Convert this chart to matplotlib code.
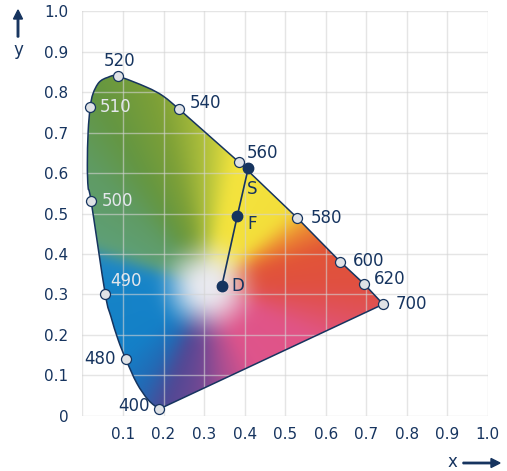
import numpy as np
import matplotlib
matplotlib.use("Agg")
import matplotlib.pyplot as plt
from matplotlib.patches import PathPatch, FancyArrow
from matplotlib.path import Path

NAVY = "#16345f"
LIGHT = "#e4e7ec"
plt.rcParams["font.family"] = ["DejaVu Sans"]

# Spectral locus in chromaticity coordinates: curved part from 400 nm to 540 nm
curve_x = [0.189, 0.162, 0.134, 0.107, 0.088, 0.070, 0.056, 0.021, 0.014, 0.012,
           0.014, 0.019, 0.026, 0.041, 0.062, 0.087, 0.158, 0.199, 0.238]
curve_y = [0.017, 0.040, 0.081, 0.140, 0.188, 0.246, 0.302, 0.532, 0.564, 0.621,
           0.703, 0.762, 0.796, 0.824, 0.836, 0.839, 0.812, 0.790, 0.758]
# nearly straight part from 560 nm to 700 nm
edge_x = [0.387, 0.529, 0.636, 0.695, 0.742]
edge_y = [0.626, 0.490, 0.381, 0.326, 0.276]

# Marked wavelengths (nm) on the locus
wavelengths = [400, 480, 490, 500, 510, 520, 540, 560, 580, 600, 620, 700]
wl_x = [0.189, 0.107, 0.056, 0.021, 0.019, 0.087, 0.238, 0.387, 0.529, 0.636, 0.695, 0.742]
wl_y = [0.017, 0.140, 0.302, 0.532, 0.762, 0.839, 0.758, 0.626, 0.490, 0.381, 0.326, 0.276]

# Colour points S, F, D joined by a line
pt_names = ["S", "F", "D"]
pt_x = [0.409, 0.382, 0.344]
pt_y = [0.612, 0.494, 0.322]

x_ticks = [0.0, 0.1, 0.2, 0.3, 0.4, 0.5, 0.6, 0.7, 0.8, 0.9, 1.0]
x_tick_labels = ["", "0.1", "0.2", "0.3", "0.4", "0.5", "0.6", "0.7", "0.8", "0.9", "1.0"]
y_ticks = [0.0, 0.1, 0.2, 0.3, 0.4, 0.5, 0.6, 0.7, 0.8, 0.9, 1.0]
y_tick_labels = ["0", "0.1", "0.2", "0.3", "0.4", "0.5", "0.6", "0.7", "0.8", "0.9", "1.0"]

# label placement (offset in points, horizontal alignment, colour)
wl_label_style = {
    400: ((-7, 2), "right", NAVY),
    480: ((-7, 0), "right", NAVY),
    490: ((3.5, 9), "left", LIGHT),
    500: ((8, 0), "left", LIGHT),
    510: ((7, 0), "left", LIGHT),
    520: ((1.5, 11), "center", NAVY),
    540: ((8, 4), "left", NAVY),
    560: ((5.3, 7), "left", NAVY),
    580: ((10, 0), "left", NAVY),
    600: ((9.3, 0.5), "left", NAVY),
    620: ((7.3, 3.3), "left", NAVY),
    700: ((9, 0), "left", NAVY),
}
pt_label_style = {"S": (-1.3, -15), "F": (7.5, -5.5), "D": (6.5, 0)}


def locus_path():
    """Smooth (Catmull-Rom as cubic Bezier) curve, then straight edges, closed."""
    p = np.column_stack([curve_x, curve_y])
    verts = [p[0]]
    codes = [Path.MOVETO]
    n = len(p)
    for i in range(n - 1):
        p0 = p[max(i - 1, 0)]
        p1, p2 = p[i], p[i + 1]
        p3 = p[min(i + 2, n - 1)]
        verts += [p1 + (p2 - p0) / 6, p2 - (p3 - p1) / 6, p2]
        codes += [Path.CURVE4] * 3
    for x, y in zip(edge_x, edge_y):
        verts.append((x, y))
        codes.append(Path.LINETO)
    verts.append(p[0])
    codes.append(Path.CLOSEPOLY)
    return Path(np.array(verts, dtype=float), codes)


# Hue by direction around the white point, blending to white at the centre
white_pt = (0.31, 0.32)
hue_angles = [-180, -140, -122, -110, -95, -80, -62, -25, -10, 0, 18, 30, 42, 78,
              90, 105, 120, 135, 160, 166, 180]
hue_rgb = [(22, 132, 200), (20, 128, 200), (35, 105, 180), (80, 72, 148),
           (110, 72, 148), (170, 78, 145), (222, 84, 140), (225, 85, 135),
           (225, 82, 90), (224, 80, 65), (226, 85, 55), (236, 135, 50),
           (244, 222, 58), (244, 228, 62), (180, 195, 60), (125, 160, 55),
           (100, 150, 65), (95, 155, 100), (95, 160, 120), (30, 135, 200),
           (22, 132, 200)]
center_rgb = (234, 234, 240)

gx = np.linspace(-0.05, 0.85, 540)
gy = np.linspace(-0.05, 0.95, 600)
GX, GY = np.meshgrid(gx, gy)
ang = np.degrees(np.arctan2(GY - white_pt[1], GX - white_pt[0]))
rad = np.hypot(GX - white_pt[0], GY - white_pt[1])
hue = np.array(hue_rgb, dtype=float) / 255.0
img = np.stack([np.interp(ang, hue_angles, hue[:, c]) for c in range(3)], axis=-1)
t = np.clip((rad - 0.02) / 0.12, 0, 1)
t = t * t * (3 - 2 * t)
cen = np.array(center_rgb) / 255.0
img = img * t[..., None] + cen * (1 - t[..., None])

# soften the colour boundaries with a separable gaussian
sig = 9.0
k = np.arange(-int(3 * sig), int(3 * sig) + 1)
kern = np.exp(-0.5 * (k / sig) ** 2)
kern /= kern.sum()
pad = len(k) // 2
for axis in (0, 1):
    padw = [(0, 0)] * 3
    padw[axis] = (pad, pad)
    ip = np.pad(img, padw, mode="edge")
    img = np.apply_along_axis(lambda v: np.convolve(v, kern, mode="valid"), axis, ip)
img = np.clip(img, 0, 1)

fig = plt.figure(figsize=(5.07, 4.71), dpi=100)
ax = fig.add_axes([0.1627, 0.1168, 0.7993, 0.8598])
ax.set_xlim(0, 1)
ax.set_ylim(0, 1)

path = locus_path()
outline = PathPatch(path, facecolor="none", edgecolor=NAVY, linewidth=1.1, zorder=3)
im = ax.imshow(img, origin="lower", extent=(-0.05, 0.85, -0.05, 0.95), aspect="auto",
               interpolation="bilinear", zorder=1)
ax.add_patch(outline)
im.set_clip_path(outline)

ax.set_axisbelow(False)
ax.grid(True, color="#d4d4d4", alpha=0.6, linewidth=1.0, zorder=2)
for s in ax.spines.values():
    s.set_visible(False)
ax.set_xticks(x_ticks)
ax.set_xticklabels(x_tick_labels)
ax.set_yticks(y_ticks)
ax.set_yticklabels(y_tick_labels)
ax.tick_params(length=0, labelsize=11, labelcolor=NAVY)
ax.tick_params(axis="y", pad=10)
ax.tick_params(axis="x", pad=8)

ax.plot(wl_x, wl_y, "o", ms=7.2, mfc="#dfe2e6", mec=NAVY, mew=0.9, zorder=4,
        clip_on=False)
for wl, x, y in zip(wavelengths, wl_x, wl_y):
    off, ha, col = wl_label_style[wl]
    ax.annotate(str(wl), (x, y), xytext=off, textcoords="offset points",
                ha=ha, va="center", fontsize=12, color=col, zorder=5)

ax.plot(pt_x, pt_y, "-", color=NAVY, lw=1.2, zorder=4)
ax.plot(pt_x, pt_y, "o", ms=7.5, color=NAVY, zorder=4)
for n, x, y in zip(pt_names, pt_x, pt_y):
    ax.annotate(n, (x, y), xytext=pt_label_style[n], textcoords="offset points",
                ha="left", va="center", fontsize=12, color=NAVY, zorder=5)

# axis names with arrows
W, H = 507, 471
fig.text(18 / W, 1 - 50 / H, "y", ha="center", va="center", fontsize=12, color=NAVY)
fig.text(452 / W, 1 - 462 / H, "x", ha="center", va="center", fontsize=12, color=NAVY)
fig.patches.append(FancyArrow(
    18 / W, 1 - 37 / H, 0, 27 / H, width=1.4 / H, head_width=9 / W, head_length=9 / H,
    length_includes_head=True, color=NAVY, transform=fig.transFigure))
fig.patches.append(FancyArrow(
    463 / W, 1 - 463 / H, 37 / W, 0, width=1.4 / H, head_width=9 / H, head_length=9 / W,
    length_includes_head=True, color=NAVY, transform=fig.transFigure))

fig.savefig("out.png", dpi=100)
